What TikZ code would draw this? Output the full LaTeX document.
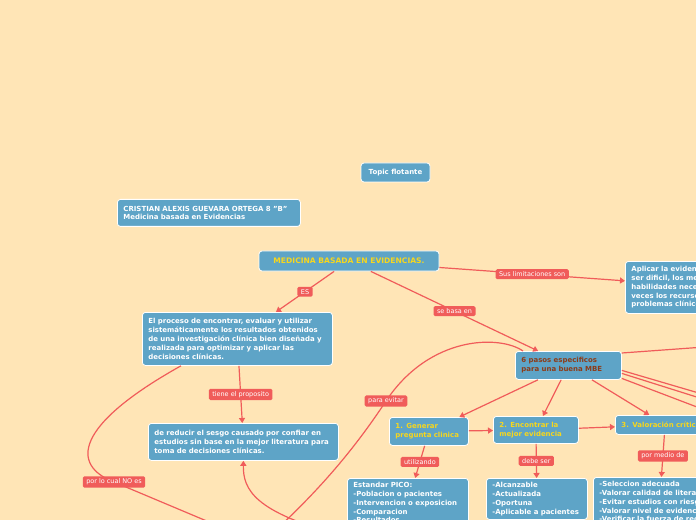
\documentclass[tikz,border=0pt]{standalone}
\usepackage{fontspec}
\setmainfont{DejaVu Sans}
\usetikzlibrary{arrows.meta}
\definecolor{fondo}{RGB}{255,229,182}
\definecolor{azul}{RGB}{94,164,199}
\definecolor{rojo}{RGB}{240,92,90}
\definecolor{amarillo}{RGB}{246,214,30}
\definecolor{cafe}{RGB}{140,60,25}

\begin{document}
\begin{tikzpicture}[x=1bp, y=-1bp,
    tema/.style={draw=white, line width=0.8bp, fill=azul, rounded corners=3bp,
                 text=white, align=left, inner xsep=6bp, inner ysep=4bp,
                 font=\fontsize{7}{8.8}\selectfont\bfseries},
    etiq/.style={fill=rojo, rounded corners=1.5bp, text=white,
                 inner xsep=3.5bp, inner ysep=2.5bp, font=\fontsize{6.5}{7.5}\selectfont},
    conn/.style={draw=rojo, line width=1.2bp, -{Triangle[length=5bp, width=6bp]}}
  ]
  \useasboundingbox (0,0) rectangle (696,520);
  \fill[fondo] (0,0) rectangle (696,520);
  \clip (0,0) rectangle (696,520);

  \node[tema, align=center, minimum width=69bp, minimum height=19bp] (flotante) at (395.5,172.5) {Topic flotante};
  \node[tema, anchor=north west, text width=171bp, minimum height=27bp] (autor) at (117,199)
    {CRISTIAN ALEXIS GUEVARA ORTEGA 8 "B"\\Medicina basada en Evidencias};
  \node[tema, align=center, text=amarillo, minimum width=180bp, minimum height=20bp,
        font=\fontsize{7.6}{9}\selectfont\bfseries] (medicina) at (349,261)
    {MEDICINA BASADA EN EVIDENCIAS.};
  \node[tema, anchor=north west, text width=178bp, minimum height=53bp] (proceso) at (142,312)
    {El proceso de encontrar, evaluar y utilizar\\sistemáticamente los resultados obtenidos\\de una investigación clínica bien diseñada y\\realizada para optimizar y aplicar las\\decisiones clínicas.};
  \node[tema, anchor=north west, text width=178bp, minimum height=37bp] (reducir) at (148,423)
    {de reducir el sesgo causado por confiar en\\estudios sin base en la mejor literatura para\\toma de decisiones clínicas.};
  \node[tema, anchor=north west, text width=170bp, minimum height=52bp] (limites) at (625,261)
    {Aplicar la evidencia puede\\ser dificil, los medicos no tienen\\habilidades necesarias y a\\veces los recursos para resolver\\problemas clínicos.};
  \node[tema, anchor=north west, text=cafe, text width=94bp, minimum height=28bp] (pasos) at (515,351)
    {6 pasos especificos\\para una buena MBE};
  \node[tema, anchor=north west, text=amarillo, text width=67bp, minimum height=28bp] (paso1) at (389,417)
    {1. Generar\\pregunta clinica};
  \node[tema, anchor=north west, text=amarillo, text width=73bp, minimum height=27bp] (paso2) at (493,416)
    {2. Encontrar la\\mejor evidencia};
  \node[tema, anchor=north west, text=amarillo, text width=88bp, minimum height=19bp] (paso3) at (615,415)
    {3. Valoración crítica};
  \node[tema, anchor=north west, text width=109bp] (pico) at (347,478)
    {Estandar PICO:\\-Poblacion o pacientes\\-Intervencion o exposicion\\-Comparacion\\-Resultados};
  \node[tema, anchor=north west, text width=89bp] (evidencia) at (486,478)
    {-Alcanzable\\-Actualizada\\-Oportuna\\-Aplicable a pacientes};
  \node[tema, anchor=north west, text width=180bp] (valorar) at (593,477)
    {-Seleccion adecuada\\-Valorar calidad de literatura\\-Evitar estudios con riesgo de sesgo\\-Valorar nivel de evidencia\\-Verificar la fuerza de recomendacion};

  \coordinate (finA) at (240,535);
  \coordinate (finB) at (265,540);
  \coordinate (finC) at (340,535);
  \coordinate (finD) at (760,343);
  \coordinate (finE) at (760,411);
  \coordinate (finF) at (760,417);
  \coordinate (finG) at (760,431);

  \draw[conn] (medicina) -- node[etiq]{ES} (proceso);
  \draw[conn] (medicina) -- node[etiq]{Sus limitaciones son} (limites);
  \draw[conn] (medicina) -- node[etiq]{se basa en} (pasos);
  \draw[conn] (proceso) -- node[etiq]{tiene el proposito} (reducir);
  \draw[conn] ([xshift=39bp]proceso.south west) .. controls (75,425) and (70,465) ..
    (114,482) node[etiq]{por lo cual NO es} -- (finA);
  \draw[conn] ([xshift=8bp]pasos.north west) .. controls (500,335) and (430,335) ..
    (386,401) node[etiq]{para evitar} .. controls (355,448) and (320,490) .. (finB);
  \draw[conn] (finC) .. controls (255,512) and (243,490) .. (reducir.south);
  \draw[conn] (pasos) -- (paso1);
  \draw[conn] (pasos) -- (paso2);
  \draw[conn] (pasos) -- (paso3);
  \draw[conn] ([yshift=-2bp]pasos.north east) -- (finD);
  \draw[conn] ([yshift=-5bp]pasos.east) -- (finE);
  \draw[conn] ([yshift=-8bp]pasos.east) -- (finF);
  \draw[conn] ([yshift=-13bp]pasos.east) -- (finG);
  \draw[conn] (paso1) -- (paso2);
  \draw[conn] (paso2) -- (paso3);
  \draw[conn] (paso1) -- node[etiq]{utilizando} (pico);
  \draw[conn] (paso2) -- node[etiq]{debe ser} (evidencia);
  \draw[conn] ([xshift=-1bp]paso3.south) -- node[etiq]{por medio de} ([xshift=-28bp]valorar.north);
\end{tikzpicture}
\end{document}
